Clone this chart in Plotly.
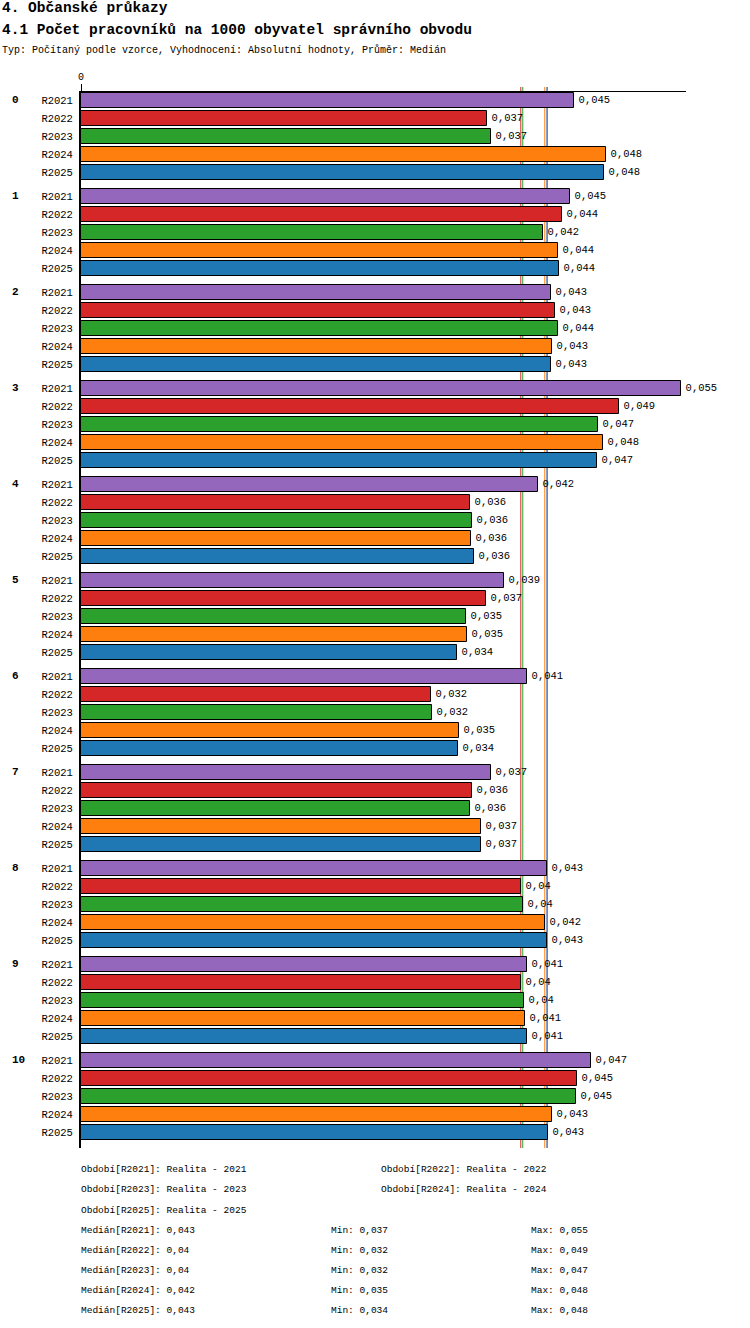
import numpy as np
import plotly.graph_objects as go

# data
groups = [str(g) for g in range(11)]
series = ["R2021", "R2022", "R2023", "R2024", "R2025"]
series_names = ["Realita - 2021", "Realita - 2022", "Realita - 2023", "Realita - 2024", "Realita - 2025"]
colors = ["#9467bd", "#d62728", "#2ca02c", "#ff7f0e", "#1f77b4"]

r2021 = [0.04502, 0.04466, 0.04292, 0.05480, 0.04173, 0.03863, 0.04073, 0.03744, 0.04258, 0.04073, 0.04657]
r2022 = [0.03707, 0.04392, 0.04329, 0.04917, 0.03552, 0.03698, 0.03196, 0.03570, 0.04018, 0.04018, 0.04530]
r2023 = [0.03744, 0.04219, 0.04356, 0.04721, 0.03570, 0.03515, 0.03205, 0.03552, 0.04036, 0.04044, 0.04520]
r2024 = [0.04794, 0.04356, 0.04301, 0.04767, 0.03561, 0.03525, 0.03451, 0.03652, 0.04237, 0.04054, 0.04301]
r2025 = [0.04776, 0.04365, 0.04292, 0.04712, 0.03589, 0.03433, 0.03442, 0.03652, 0.04258, 0.04073, 0.04265]
values = [r2021, r2022, r2023, r2024, r2025]

title1 = "4. Občanské průkazy"
title2 = "4.1 Počet pracovníků na 1000 obyvatel správního obvodu"
subtitle = "Typ: Počítaný podle vzorce, Vyhodnocení: Absolutní hodnoty, Průměr: Medián"

FONT = "Liberation Mono"
W, H = 750, 1328
# plot area in pixels
L, R, T, B = 81, 686, 92, 1148
ROW = 18          # px per bar row
GROUP = 96        # px per group
FIRST = 100       # centre of first bar
PX_PER_UNIT = 10946


def cz(v):
    s = f"{v:.3f}".rstrip("0").rstrip(".")
    return s.replace(".", ",")


def px_x(p):
    return (p - L) / (R - L)


def px_y(p):
    return (B - p) / (B - T)


def pos(g, i):
    return g * GROUP / ROW + i


fig = go.Figure()

# median lines (drawn under the bars)
for i, s in enumerate(series):
    med = float(np.median(values[i]))
    fig.add_shape(
        type="line", xref="x", yref="paper",
        x0=med, x1=med, y0=0, y1=px_y(87),
        line=dict(color=colors[i], width=1), layer="below",
    )

tickvals, ticktext = [], []
for i, s in enumerate(series):
    ys = [pos(g, i) for g in range(len(groups))]
    tickvals += ys
    ticktext += [s] * len(ys)
    fig.add_trace(
        go.Bar(
            x=values[i],
            y=ys,
            orientation="h",
            width=15 / ROW,
            name=s,
            marker=dict(color=colors[i], line=dict(color="black", width=1)),
            text=["\u2009" + cz(v) for v in values[i]],
            textposition="outside",
            textfont=dict(family=FONT, size=10.5, color="black"),
            cliponaxis=False,
            hoverinfo="x+y",
        )
    )

annotations = []
for g, name in enumerate(groups):
    annotations.append(dict(
        x=px_x(10), xref="paper", y=pos(g, 0), yref="y",
        text=f"<b>{name}</b>", showarrow=False, xanchor="left", yanchor="middle",
        font=dict(family=FONT, size=11, color="black"),
    ))

# header
for txt, py, size, bold in [(title1, 8, 14.5, True), (title2, 30, 14.5, True), (subtitle, 50, 10, False)]:
    annotations.append(dict(
        x=px_x(0), xref="paper", y=px_y(py), yref="paper",
        text=f"<b>{txt}</b>" if bold else txt, showarrow=False,
        xanchor="left", yanchor="middle",
        font=dict(family=FONT, size=size, color="black"),
    ))

# footer
foot = []
period_rows = [(0, 1), (2, 3), (4,)]
for r, idxs in enumerate(period_rows):
    for c, i in enumerate(idxs):
        foot.append((79 + c * 300, 1169 + r * 20.5, f"Období[{series[i]}]: {series_names[i]}"))
for i, s in enumerate(series):
    py = 1230 + i * 20
    v = values[i]
    foot.append((79, py, f"Medián[{s}]: {cz(float(np.median(v)))}"))
    foot.append((329, py, f"Min: {cz(min(v))}"))
    foot.append((529, py, f"Max: {cz(max(v))}"))
for px, py, txt in foot:
    annotations.append(dict(
        x=px_x(px), xref="paper", y=px_y(py), yref="paper",
        text=txt, showarrow=False, xanchor="left", yanchor="middle",
        font=dict(family=FONT, size=9.5, color="black"),
    ))

fig.update_layout(
    width=W, height=H,
    margin=dict(l=L, r=W - R, t=T, b=H - B, pad=0),
    plot_bgcolor="white", paper_bgcolor="white",
    showlegend=False, barmode="overlay", bargap=0,
    font=dict(family=FONT, size=10, color="black"),
    annotations=annotations,
    xaxis=dict(
        side="top", range=[0, (R - L) / PX_PER_UNIT],
        tickvals=[0], ticktext=["0"], ticks="outside", ticklen=7, tickcolor="black",
        showline=True, linecolor="black", linewidth=1,
        showgrid=False, zeroline=False,
        tickfont=dict(family=FONT, size=10),
    ),
    yaxis=dict(
        range=[(B - FIRST) / ROW, (T - FIRST) / ROW],
        tickvals=tickvals, ticktext=ticktext, ticks="", ticklabelstandoff=4,
        showline=True, linecolor="black", linewidth=2,
        showgrid=False, zeroline=False,
        tickfont=dict(family=FONT, size=10.5),
    ),
)

fig.write_html(
    "out.html",
    config={"displayModeBar": False},
    post_script="document.body.style.margin='0';",
)
